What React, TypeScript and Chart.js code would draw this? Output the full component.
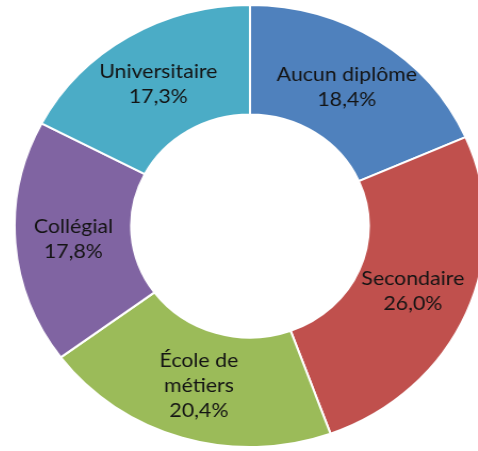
import React, { useEffect, useRef } from 'react';
import { Chart, registerables } from 'chart.js';

Chart.register(...registerables);

const categories = ['Aucun diplôme', 'Secondaire', 'École de métiers', 'Collégial', 'Universitaire'];
const labelLines = [['Aucun diplôme'], ['Secondaire'], ['École de', 'métiers'], ['Collégial'], ['Universitaire']];
const values = [18.4, 26.0, 20.4, 17.8, 17.3];
const colors = ['#4F81BD', '#C0504D', '#9BBB59', '#8064A2', '#4BACC6'];

const fmt = (v: number) => v.toFixed(1).replace('.', ',') + '%';

const labelPlugin = {
  id: 'sliceLabels',
  afterDatasetsDraw(chart: any) {
    const ctx = chart.ctx;
    const meta = chart.getDatasetMeta(0);
    ctx.save();
    ctx.font = '20px Lato, "Liberation Sans", sans-serif';
    ctx.fillStyle = '#141414';
    ctx.textAlign = 'center';
    ctx.textBaseline = 'middle';
    const lh = 25;
    meta.data.forEach((arc: any, i: number) => {
      const p = arc.tooltipPosition();
      const lines = [...labelLines[i], fmt(values[i])];
      const start = p.y - ((lines.length - 1) * lh) / 2;
      lines.forEach((t, j) => ctx.fillText(t, p.x, start + j * lh));
    });
    ctx.restore();
  },
};

export default function App() {
  const ref = useRef<HTMLCanvasElement>(null);
  useEffect(() => {
    if (!ref.current) return;
    const chart = new Chart(ref.current, {
      type: 'doughnut',
      data: {
        labels: categories,
        datasets: [
          {
            data: values,
            backgroundColor: colors,
            borderColor: '#ffffff',
            borderWidth: 2,
            hoverOffset: 0,
          },
        ],
      },
      options: {
        responsive: false,
        animation: false,
        cutout: '50.5%',
        layout: { padding: 0 },
        plugins: {
          legend: { display: false },
          tooltip: { enabled: false },
        },
      },
      plugins: [labelPlugin],
    });
    return () => chart.destroy();
  }, []);

  return (
    <div style={{ position: 'absolute', left: 0, top: 0, width: 478, height: 451, overflow: 'hidden', background: '#fff' }}>
      <div
        style={{
          position: 'absolute',
          left: 28,
          top: 4,
          width: 444,
          height: 444,
          transform: 'scaleX(1.065)',
          transformOrigin: '222px 222px',
        }}
      >
        <canvas ref={ref} width={444} height={444} style={{ width: 444, height: 444, display: 'block' }} />
      </div>
    </div>
  );
}
